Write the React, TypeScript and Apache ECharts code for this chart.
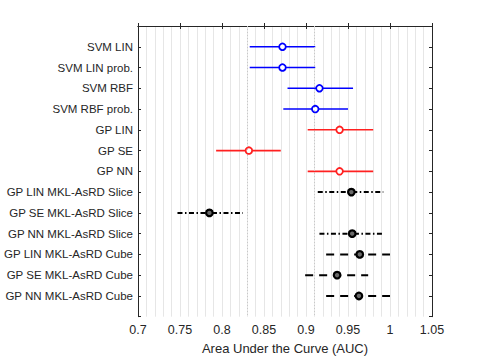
import React, { useEffect, useRef } from "react";
import * as echarts from "echarts";

const categories = [
  "SVM LIN",
  "SVM LIN prob.",
  "SVM RBF",
  "SVM RBF prob.",
  "GP LIN",
  "GP SE",
  "GP NN",
  "GP LIN MKL-AsRD Slice",
  "GP SE MKL-AsRD Slice",
  "GP NN MKL-AsRD Slice",
  "GP LIN MKL-AsRD Cube",
  "GP SE MKL-AsRD Cube",
  "GP NN MKL-AsRD Cube",
];
const centers = [0.872, 0.872, 0.916, 0.911, 0.940, 0.832, 0.940, 0.954, 0.785, 0.955, 0.964, 0.937, 0.963];
const lows = [0.833, 0.833, 0.878, 0.873, 0.902, 0.793, 0.902, 0.914, 0.747, 0.916, 0.924, 0.899, 0.924];
const highs = [0.911, 0.911, 0.956, 0.950, 0.980, 0.870, 0.980, 0.992, 0.825, 0.993, 1.0, 0.974, 1.0];
// group: 0 = SVM (blue), 1 = GP (red), 2 = MKL slice (black dash-dot), 3 = MKL cube (black dashed)
const groups = [0, 0, 0, 0, 1, 1, 1, 2, 2, 2, 3, 3, 3];
const refLines = [0.833, 0.911];
const xTicks = [0.7, 0.75, 0.8, 0.85, 0.9, 0.95, 1, 1.05];

const groupColor = ["#0000ff", "#ff2020", "#000000", "#000000"];
const groupDash: any[] = [null, null, [5, 2.5, 1.5, 2.5], [8, 6]];

export default function App() {
  const ref = useRef<HTMLDivElement>(null);
  useEffect(() => {
    if (!ref.current) return;
    const chart = echarts.init(ref.current, undefined, { renderer: "svg" });
    const data = categories.map((c, i) => [lows[i], highs[i], centers[i], i + 1, groups[i]]);
    const textColor = "#262626";
    const font = "Liberation Sans";
    chart.setOption({
      animation: false,
      grid: { left: 138, top: 26, width: 294, height: 290.7, show: false, containLabel: false, outerBoundsMode: "none" },
      xAxis: [
        {
          type: "value",
          min: 0.7,
          max: 1.05,
          interval: 0.05,
          position: "bottom",
          name: "Area Under the Curve (AUC)",
          nameLocation: "middle",
          nameGap: 20,
          nameTextStyle: { color: textColor, fontSize: 13, fontFamily: font },
          axisLine: { show: true, lineStyle: { color: textColor, width: 1 } },
          axisTick: { show: true, inside: true, length: 3, lineStyle: { color: textColor } },
          axisLabel: {
            color: textColor,
            fontSize: 12.5,
            fontFamily: font,
            margin: 7,
            formatter: (v: number) => {
              const t = xTicks.find((x) => Math.abs(x - v) < 1e-6);
              return t === undefined ? "" : String(t);
            },
          },
          splitLine: { show: true, lineStyle: { color: "#e6e6e6", width: 1 } },
          minorTick: { show: false, splitNumber: 5 },
          minorSplitLine: { show: true, lineStyle: { color: "#e6e6e6", width: 1 } },
        },
        {
          type: "value",
          min: 0.7,
          max: 1.05,
          interval: 0.05,
          position: "top",
          axisLine: { show: true, lineStyle: { color: textColor, width: 1 } },
          axisTick: { show: true, inside: true, length: 3, lineStyle: { color: textColor } },
          axisLabel: { show: false },
          splitLine: { show: false },
        },
      ],
      yAxis: [
        {
          type: "value",
          min: 0,
          max: 14,
          interval: 1,
          inverse: true,
          position: "left",
          axisLine: { show: true, lineStyle: { color: textColor, width: 1 } },
          axisTick: { show: true, inside: true, length: 3, lineStyle: { color: textColor } },
          axisLabel: {
            color: textColor,
            fontSize: 11.5,
            fontFamily: font,
            margin: 5,
            formatter: (v: number) => (v >= 1 && v <= categories.length ? categories[v - 1] : ""),
          },
          splitLine: { show: false },
        },
        {
          type: "value",
          min: 0,
          max: 14,
          interval: 1,
          inverse: true,
          position: "right",
          axisLine: { show: true, lineStyle: { color: textColor, width: 1 } },
          axisTick: { show: true, inside: true, length: 3, lineStyle: { color: textColor } },
          axisLabel: { show: false },
          splitLine: { show: false },
        },
      ],
      series: [
        {
          type: "line",
          xAxisIndex: 0,
          yAxisIndex: 0,
          data: [],
          markLine: {
            silent: true,
            symbol: "none",
            label: { show: false },
            lineStyle: { color: "#c8c8c8", type: [1, 2], width: 1 },
            data: refLines.map((v) => ({ xAxis: v })),
          },
        },
        {
          type: "custom",
          xAxisIndex: 0,
          yAxisIndex: 0,
          data,
          renderItem: (params: any, api: any) => {
            const lo = api.value(0);
            const hi = api.value(1);
            const c = api.value(2);
            const y = api.value(3);
            const g = api.value(4);
            const p1 = api.coord([lo, y]);
            const p2 = api.coord([hi, y]);
            const pc = api.coord([c, y]);
            const color = groupColor[g];
            const dash = groupDash[g];
            return {
              type: "group",
              children: [
                {
                  type: "line",
                  shape: { x1: p1[0], y1: p1[1], x2: p2[0], y2: p2[1] },
                  style: { stroke: color, lineWidth: g >= 2 ? 2 : 1.6, lineDash: dash || undefined, fill: null },
                },
                {
                  type: "circle",
                  shape: { cx: pc[0], cy: pc[1], r: 3.3 },
                  style: { stroke: color, lineWidth: g >= 2 ? 2.2 : 1.8, fill: g >= 2 ? "#6a6a6a" : "#ffffff" },
                },
              ],
            };
          },
        },
      ],
    });
    return () => chart.dispose();
  }, []);
  return <div ref={ref} style={{ width: 478, height: 358, position: "absolute", left: 0, top: 0, background: "#fff" }} />;
}
